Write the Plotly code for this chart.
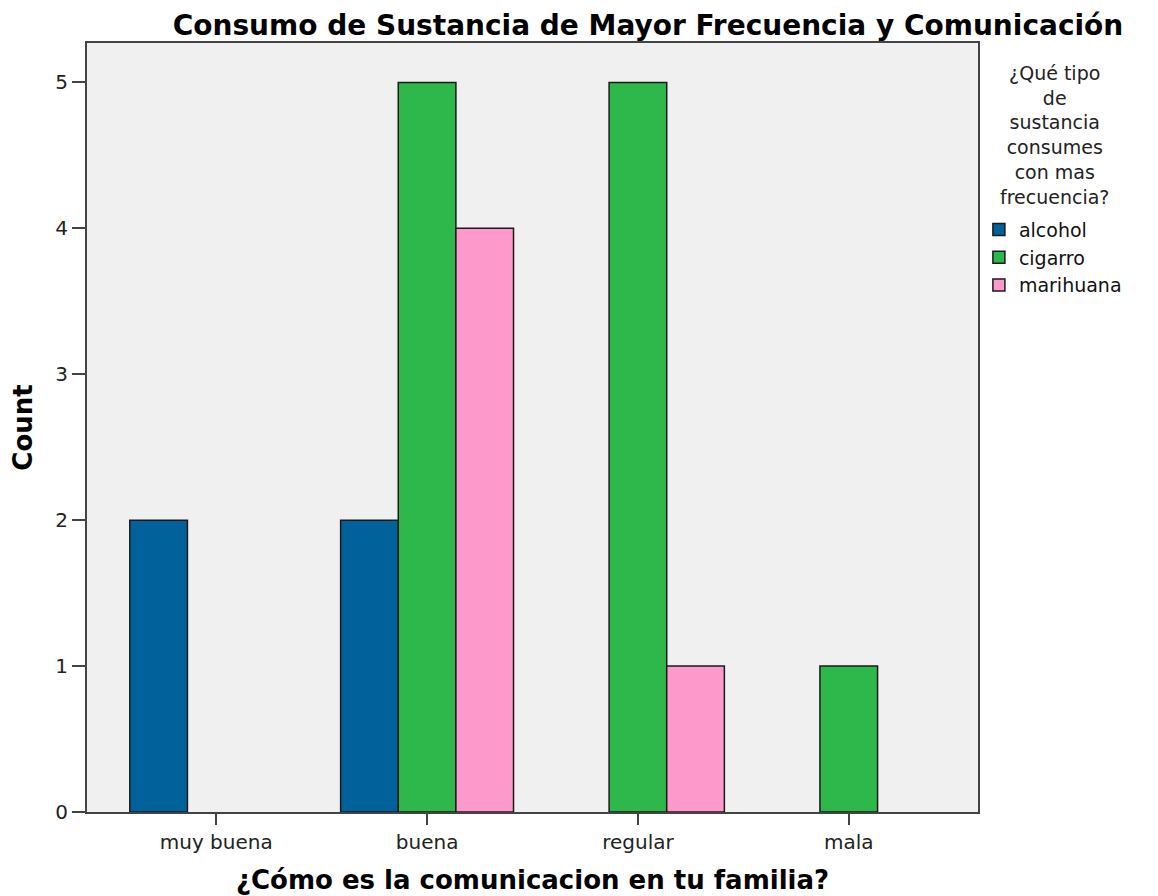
import plotly.graph_objects as go

categories = ["muy buena", "buena", "regular", "mala"]
alcohol = [2, 2, None, None]
cigarro = [None, 5, 5, 1]
marihuana = [None, 4, 1, None]
series_names = ["alcohol", "cigarro", "marihuana"]
series_colors = ["#01629B", "#2EB74A", "#FE99CB"]
y_ticks = [0, 1, 2, 3, 4, 5]
legend_title = "¿Qué tipo<br>de<br>sustancia<br>consumes<br>con mas<br>frecuencia?"

FONT = "DejaVu Sans"

fig = go.Figure()
for name, vals, col in zip(series_names, [alcohol, cigarro, marihuana], series_colors):
    fig.add_trace(go.Bar(
        x=categories, y=vals, name=name,
        marker=dict(color=col, line=dict(color="#1a1a1a", width=1.5)),
    ))

fig.add_annotation(
    text=legend_title, xref="paper", yref="paper",
    x=1.0864, y=0.978, xanchor="center", yanchor="top",
    align="center", showarrow=False,
    font=dict(family=FONT, size=19, color="#222222"),
)

fig.update_layout(
    width=1158, height=896,
    margin=dict(l=79, r=188, t=35, b=92),
    paper_bgcolor="white",
    plot_bgcolor="#F0F0F0",
    barmode="group",
    bargap=0.18,
    bargroupgap=0,
    font=dict(family=FONT, size=20, color="#222222"),
    title=dict(
        text="Consumo de Sustancia de Mayor Frecuencia y Comunicación",
        font=dict(family=FONT, size=28, color="#000000", weight="bold"),
        x=640 / 1158, xref="container", xanchor="center",
        y=1 - 17 / 896, yref="container", yanchor="middle",
    ),
    xaxis=dict(
        type="category",
        range=[-0.613, 3.613],
        showline=True, mirror=True, linecolor="#444444", linewidth=2,
        ticks="outside", ticklen=11, tickwidth=2, tickcolor="#444444",
        tickfont=dict(family=FONT, size=20, color="#222222"),
        showgrid=False, zeroline=False, automargin=False,
        title=dict(text="¿Cómo es la comunicacion en tu familia?",
                   font=dict(family=FONT, size=26, color="#000000", weight="bold"),
                   standoff=18),
    ),
    yaxis=dict(
        range=[0, 5.27],
        tickvals=y_ticks,
        showline=True, mirror=True, linecolor="#444444", linewidth=2,
        ticks="outside", ticklen=13, tickwidth=2, tickcolor="#444444",
        tickfont=dict(family=FONT, size=20, color="#222222"),
        showgrid=False, zeroline=False, automargin=False,
        title=dict(text="Count",
                   font=dict(family=FONT, size=26, color="#000000", weight="bold"),
                   standoff=22),
    ),
    legend=dict(
        x=1.001, xanchor="left", y=0.782, yanchor="top",
        bgcolor="rgba(0,0,0,0)",
        font=dict(family=FONT, size=19, color="#111111"),
        itemwidth=30,
        tracegroupgap=0,
    ),
    showlegend=True,
)

fig.write_html("out.html")
